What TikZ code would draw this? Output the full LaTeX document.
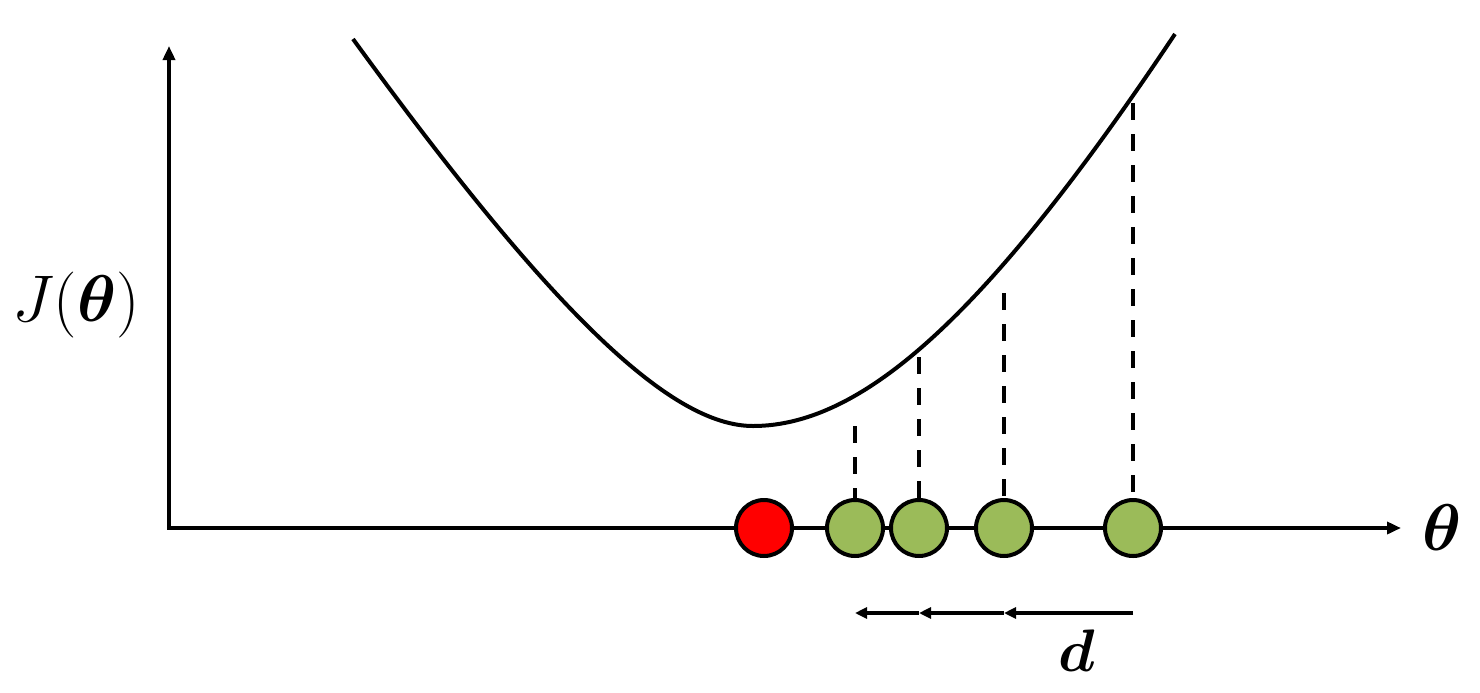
\RequirePackage{fix-cm}
\documentclass[tikz,border=0pt]{standalone}
\usepackage{amsmath}
\usepackage{bm}
\usetikzlibrary{arrows.meta}
\definecolor{ptgreen}{HTML}{9BBB59}
\begin{document}
\begin{tikzpicture}[x=0.5pt,y=-0.5pt,
  axisline/.style={line width=2pt,-{Triangle[length=7pt,width=6pt]}},
  curveline/.style={line width=2pt},
  dropline/.style={line width=2pt,dash pattern=on 8.5pt off 7pt},
  stepline/.style={line width=2pt,-{Triangle[length=6pt,width=5.5pt]}},
  dot/.style={circle,draw=black,line width=2pt,minimum size=28pt,inner sep=0pt},
  lbl/.style={inner sep=0pt,font=\fontsize{33}{40}\selectfont}]
\useasboundingbox (0,0) rectangle (1480,692);
% axes
\coordinate (o) at (169,528);
\coordinate (ytop) at (169,46);
\coordinate (xend) at (1401,528);
\draw[axisline] (o) -- (ytop);
\draw[axisline] (167,528) -- (xend);
% curve
\coordinate (c0) at (353,39);
\coordinate (cm) at (753,426);
\coordinate (c1) at (1175,34);
\draw[curveline] (c0) .. controls (550,310) and (670,426) .. (cm)
                      .. controls (866,426) and (992,308) .. (c1);
% points
\node[dot,fill=red] (r) at (764,528) {};
\node[dot,fill=ptgreen] (g1) at (855,528) {};
\node[dot,fill=ptgreen] (g2) at (919,528) {};
\node[dot,fill=ptgreen] (g3) at (1004,528) {};
\node[dot,fill=ptgreen] (g4) at (1133,528) {};
% dashed drop lines
\coordinate (t1) at (855,426);
\coordinate (t2) at (919,357);
\coordinate (t3) at (1004,293);
\coordinate (t4) at (1133,103);
\draw[dropline] (t1) -- (g1.north);
\draw[dropline] (t2) -- (g2.north);
\draw[dropline] (t3) -- (g3.north);
\draw[dropline] (t4) -- (g4.north);
% step arrows
\coordinate (s1) at (855,613);
\coordinate (s2) at (919,613);
\coordinate (s3) at (1004,613);
\coordinate (s4) at (1133,613);
\draw[stepline] (s4) -- (s3);
\draw[stepline] (s3) -- (s2);
\draw[stepline] (s2) -- (s1);
% labels
\node[lbl] (jl) at (76,305) {$J(\bm{\theta})$};
\node[lbl] (tl) at (1442,528) {$\bm{\theta}$};
\node[lbl,font=\fontsize{30}{36}\selectfont] (dl) at (1077,651) {$\bm{d}$};
\end{tikzpicture}
\end{document}
